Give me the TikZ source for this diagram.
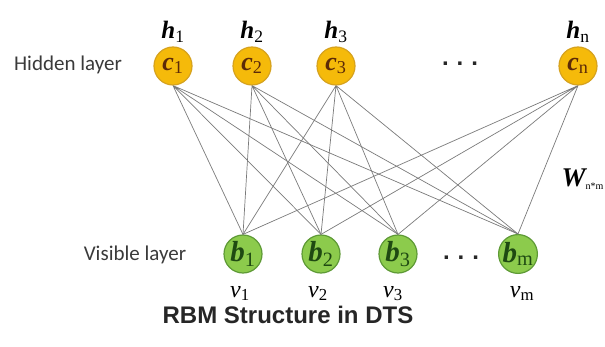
\documentclass[tikz,border=0pt]{standalone}
\usepackage{fontspec}
\setmainfont{Liberation Serif}
\newfontfamily\layerfont{Carlito}
\newfontfamily\titlefont{Liberation Sans}
\usepackage{tikz}
\usetikzlibrary{positioning}

\definecolor{hiddenfill}{HTML}{F5BA0A}
\definecolor{hiddenline}{HTML}{D6A21E}
\definecolor{hiddentext}{HTML}{5C2A08}
\definecolor{visiblefill}{HTML}{8CCB4C}
\definecolor{visibleline}{HTML}{5E9A36}
\definecolor{visibletext}{HTML}{1F4A12}
\definecolor{linkgray}{HTML}{7A7A7A}
\definecolor{layergray}{HTML}{3A3A3A}

\begin{document}
\begin{tikzpicture}[x=1pt, y=1pt,
    hidden/.style={circle, fill=hiddenfill, draw=hiddenline, line width=1.2pt, minimum size=38pt, inner sep=0pt, text=hiddentext, font=\fontsize{26}{26}\selectfont\bfseries\itshape},
    visible/.style={circle, fill=visiblefill, draw=visibleline, line width=1.2pt, minimum size=38pt, inner sep=0pt, text=visibletext, font=\fontsize{29}{29}\selectfont\bfseries\itshape},
    unitlabel/.style={anchor=base, inner sep=0pt, font=\fontsize{25}{25}\selectfont\bfseries\itshape},
    inputlabel/.style={anchor=base, inner sep=0pt, font=\fontsize{24}{24}\selectfont\itshape},
    layerlabel/.style={text=layergray, font=\layerfont\fontsize{21}{21}\selectfont},
    ellipsis/.style={text=black!85, font=\titlefont\fontsize{24}{24}\selectfont\bfseries},
    link/.style={draw=linkgray, line width=0.7pt}]

    % Canvas
    \useasboundingbox (0,0) rectangle (605,346);

    % Hidden layer
    \node[layerlabel] (hiddenname) at (68,281) {Hidden layer};
    \node[hidden] (c1) at (173,280) {c\textsubscript{\normalfont 1}};
    \node[hidden] (c2) at (252,280) {c\textsubscript{\normalfont 2}};
    \node[hidden] (c3) at (336,280) {c\textsubscript{\normalfont 3}};
    \node[ellipsis] (hdots) at (460,282) {.\,\,.\,\,.};
    \node[hidden] (cn) at (578,280) {c\textsubscript{\normalfont n}};

    % Hidden unit names
    \node[unitlabel] (h1) at (173,307) {h\textsubscript{\normalfont 1}};
    \node[unitlabel] (h2) at (252,307) {h\textsubscript{\normalfont 2}};
    \node[unitlabel] (h3) at (336,307) {h\textsubscript{\normalfont 3}};
    \node[unitlabel] (hn) at (578,307) {h\textsubscript{\normalfont n}};

    % Visible layer
    \node[layerlabel] (visiblename) at (135,91) {Visible layer};
    \node[visible] (b1) at (243,92) {b\textsubscript{\normalfont 1}};
    \node[visible] (b2) at (321,92) {b\textsubscript{\normalfont 2}};
    \node[visible] (b3) at (398,92) {b\textsubscript{\normalfont 3}};
    \node[ellipsis] (vdots) at (461,88) {.\,\,.\,\,.};
    \node[visible] (bm) at (518,92) {b\textsubscript{\normalfont m}};

    % Visible unit names
    \node[inputlabel] (v1) at (240,49) {v\textsubscript{\normalfont 1}};
    \node[inputlabel] (v2) at (318,49) {v\textsubscript{\normalfont 2}};
    \node[inputlabel] (v3) at (393,49) {v\textsubscript{\normalfont 3}};
    \node[inputlabel] (vm) at (522,49) {v\textsubscript{\normalfont m}};

    % Weights
    \draw[link] (c1.south) -- (b1.north) (c1.south) -- (b2.north) (c1.south) -- (b3.north) (c1.south) -- (bm.north);
    \draw[link] (c2.south) -- (b1.north) (c2.south) -- (b2.north) (c2.south) -- (b3.north) (c2.south) -- (bm.north);
    \draw[link] (c3.south) -- (b1.north) (c3.south) -- (b2.north) (c3.south) -- (b3.north) (c3.south) -- (bm.north);
    \draw[link] (cn.south) -- (b1.north) (cn.south) -- (b2.north) (cn.south) -- (b3.north) (cn.south) -- (bm.north);
    \node[anchor=base east, inner sep=1pt, font=\fontsize{27}{27}\selectfont\bfseries\itshape] (weights) at (605,160) {W\textsubscript{\normalfont\fontsize{10}{10}\selectfont n*m}};

    % Caption
    \node[anchor=base, inner sep=0pt, text=black!85, font=\titlefont\fontsize{24}{24}\selectfont\bfseries] (caption) at (288,23) {RBM Structure in DTS};

\end{tikzpicture}
\end{document}
